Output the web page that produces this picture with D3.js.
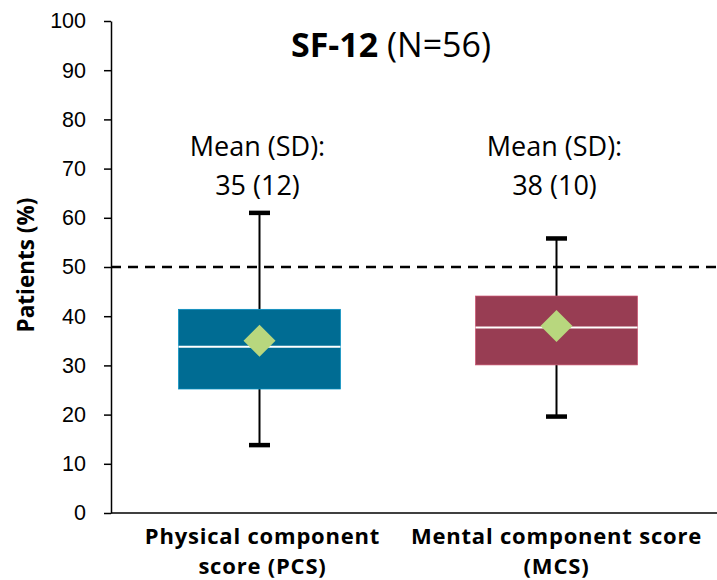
<!DOCTYPE html>
<html>
<head>
<meta charset="utf-8">
<script src="https://cdn.jsdelivr.net/npm/d3@7/dist/d3.min.js"></script>
<style>
  html, body { margin: 0; padding: 0; background: #fff; }
  svg { display: block; }
</style>
</head>
<body>
<svg id="chart" width="717" height="580"></svg>
<script>
// SF-12 component scores, box-and-whisker summary
const categories = ["PCS", "MCS"];
const categoryLabels = [["Physical component", "score (PCS)"], ["Mental component score", "(MCS)"]];
const whiskerLow  = [13.8, 19.6];
const q1          = [25.2, 30.1];
const median      = [33.8, 37.7];
const q3          = [41.4, 44.1];
const whiskerHigh = [61.0, 55.8];
const means       = [35, 38];
const sds         = [12, 10];
const boxColors   = ["#006c93", "#983d53"];
const yTicks      = [0, 10, 20, 30, 40, 50, 60, 70, 80, 90, 100];
const referenceLine = 50;

const svg = d3.select("#chart");
const plotLeft = 111, plotRight = 705, plotTop = 21, plotBottom = 513;
const sansFont = "Open Sans, Noto Sans, sans-serif";

const x = d3.scaleBand().domain(categories).range([plotLeft, plotRight]);
const y = d3.scaleLinear().domain([0, 100]).range([plotBottom, plotTop]);

// Y axis
const yAxis = svg.append("g")
  .attr("transform", `translate(${plotLeft},0)`)
  .call(d3.axisLeft(y).tickValues(yTicks).tickSize(7).tickPadding(18).tickSizeOuter(0));
yAxis.select(".domain").attr("stroke", "#000").attr("stroke-width", 1.5);
yAxis.selectAll(".tick line").attr("stroke", "#000").attr("stroke-width", 1.5);
yAxis.selectAll(".tick text")
  .attr("font-family", "Liberation Sans, Arial, sans-serif")
  .attr("font-size", 21.5)
  .attr("fill", "#000");

// X axis baseline
svg.append("line")
  .attr("x1", plotLeft).attr("x2", 717)
  .attr("y1", y(0)).attr("y2", y(0))
  .attr("stroke", "#000").attr("stroke-width", 1.5);

// Reference line at 50
svg.append("line")
  .attr("x1", plotLeft).attr("x2", 717)
  .attr("y1", y(referenceLine)).attr("y2", y(referenceLine))
  .attr("stroke", "#000").attr("stroke-width", 2.5)
  .attr("stroke-dasharray", "10,7");

const boxW = 162, capW = 21;

categories.forEach((c, i) => {
  const cx = x(c) + x.bandwidth() / 2;
  const grp = svg.append("g");
  // whiskers
  grp.append("line").attr("x1", cx).attr("x2", cx)
    .attr("y1", y(whiskerHigh[i])).attr("y2", y(q3[i]))
    .attr("stroke", "#000").attr("stroke-width", 2);
  grp.append("line").attr("x1", cx).attr("x2", cx)
    .attr("y1", y(q1[i])).attr("y2", y(whiskerLow[i]))
    .attr("stroke", "#000").attr("stroke-width", 2);
  [whiskerHigh[i], whiskerLow[i]].forEach(v => {
    grp.append("line").attr("x1", cx - capW / 2).attr("x2", cx + capW / 2)
      .attr("y1", y(v)).attr("y2", y(v))
      .attr("stroke", "#000").attr("stroke-width", 4.5);
  });
  // box
  grp.append("rect")
    .attr("x", cx - boxW / 2).attr("width", boxW)
    .attr("y", y(q3[i])).attr("height", y(q1[i]) - y(q3[i]))
    .attr("fill", boxColors[i])
    .attr("stroke", d3.color(boxColors[i]).brighter(0.8)).attr("stroke-width", 0.7);
  // median
  grp.append("line")
    .attr("x1", cx - boxW / 2).attr("x2", cx + boxW / 2)
    .attr("y1", y(median[i])).attr("y2", y(median[i]))
    .attr("stroke", "#fff").attr("stroke-width", 2);
  // mean marker
  const r = 16;
  const my = y(means[i]);
  grp.append("path")
    .attr("d", `M${cx},${my - r}L${cx + r},${my}L${cx},${my + r}L${cx - r},${my}Z`)
    .attr("fill", "#b8d77e");
  // mean (SD) annotation
  const t = grp.append("text")
    .attr("text-anchor", "middle")
    .attr("font-family", sansFont)
    .attr("font-size", 27)
    .attr("fill", "#000");
  t.append("tspan").attr("x", cx - 2).attr("y", 156).text("Mean (SD):");
  t.append("tspan").attr("x", cx - 2).attr("y", 195).text(`${means[i]} (${sds[i]})`);
  // category label, one text element per line
  categoryLabels[i].forEach((line, k) => {
    svg.append("text")
      .attr("x", cx + (i === 0 ? 3 : 0)).attr("y", 544 + k * 30)
      .attr("text-anchor", "middle")
      .attr("font-family", sansFont)
      .attr("font-weight", "bold")
      .attr("font-size", 22)
      .attr("letter-spacing", 0.8)
      .attr("fill", "#000")
      .text(line);
  });
});

// Title
const title = svg.append("text")
  .attr("x", 391).attr("y", 57)
  .attr("text-anchor", "middle")
  .attr("font-family", sansFont)
  .attr("font-size", 34)
  .attr("fill", "#000");
title.append("tspan").attr("font-weight", "bold").text("SF-12");
title.append("tspan").text(" (N=56)");

// Y axis title
svg.append("text")
  .attr("transform", `translate(34,${y(50) - 2}) rotate(-90)`)
  .attr("text-anchor", "middle")
  .attr("font-family", sansFont)
  .attr("font-weight", "bold")
  .attr("font-size", 22.5)
  .attr("fill", "#000")
  .text("Patients (%)");
</script>
</body>
</html>
